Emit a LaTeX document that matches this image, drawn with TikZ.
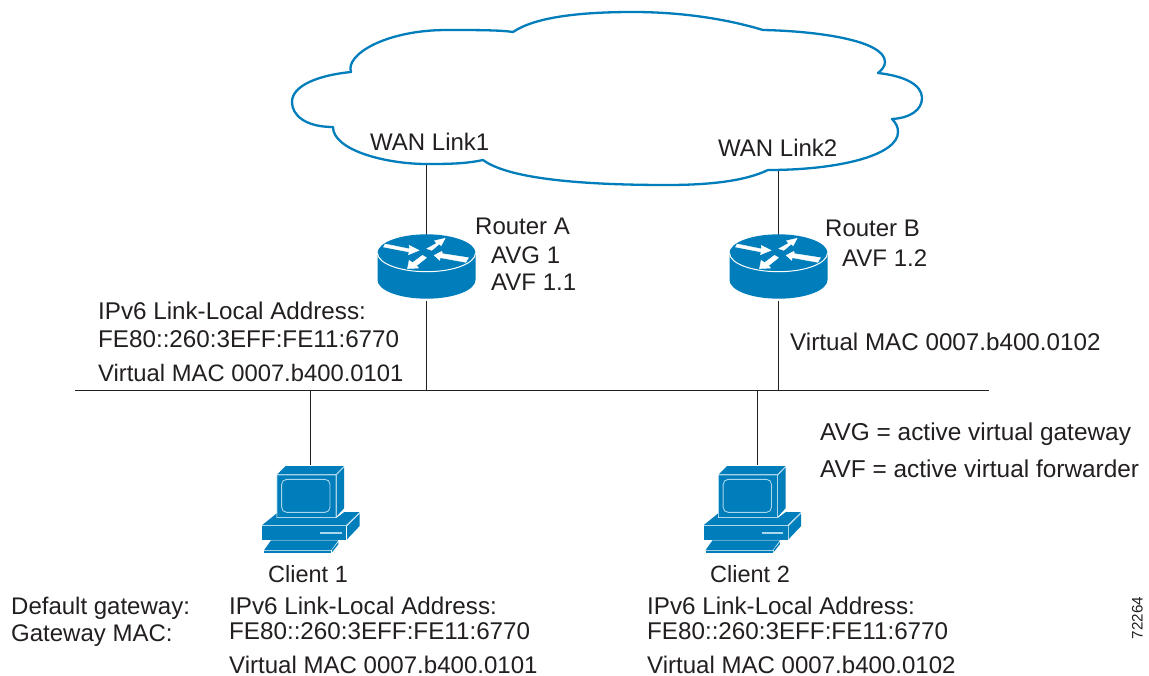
\documentclass[tikz,border=0pt]{standalone}
\usepackage{fontspec}
\setmainfont{Liberation Sans}
\definecolor{cblue}{RGB}{0,125,187}
\definecolor{cpale}{RGB}{170,215,235}
\definecolor{txt}{RGB}{35,31,32}
\tikzset{
  lbl/.style={anchor=base west,inner sep=0,text=txt,font=\fontsize{24.2}{28}\selectfont},
  lblb/.style={lbl,font=\fontsize{24}{28}\selectfont},
  lblc/.style={lbl,font=\fontsize{24.4}{28}\selectfont},
  lbld/.style={lbl,font=\fontsize{23.5}{28}\selectfont},
  lble/.style={lbl,font=\fontsize{23.8}{28}\selectfont},
  lblf/.style={lbl,font=\fontsize{24.05}{28}\selectfont},
  link/.style={draw=txt,line width=1.3pt},
  cloudline/.style={draw=cblue,line width=2.3pt,line join=round,fill=white},
  arrowfill/.style={fill=white,draw=white,line width=.4pt},
  router/.pic={
    \fill[cblue] (-49,0) -- (-49,27) arc[start angle=180,end angle=360,x radius=49pt,y radius=18.7pt] -- (49,0) arc[start angle=0,end angle=180,x radius=49pt,y radius=18.7pt] -- cycle;
    \draw[white,line width=1pt] (-49,0) arc[start angle=180,end angle=360,x radius=49pt,y radius=18.7pt];
    \begin{scope}[shift={(-202/3,-158/3)},scale=1/3]
      \path[arrowfill] (73,140) -- (78,131) -- (152,146) -- (150,135) -- (180,150) -- (148,163) -- (150,155) -- cycle;
      \path[arrowfill] (203,145) -- (232,129) -- (226,121) -- (258,114) -- (246,136) -- (240,131) -- (218,150) -- cycle;
      \path[arrowfill] (225,165) -- (248,153) -- (250,160) -- (328,172) -- (320,186) -- (243,172) -- (242,180) -- cycle;
      \path[arrowfill] (145,205) -- (150,180) -- (160,187) -- (190,165) -- (202,172) -- (172,196) -- (178,203) -- cycle;
    \end{scope}
  },
  pcicon/.pic={
    \begin{scope}[shift={(-353/3,-45/3)},scale=1/3]
      % monitor
      \fill[cblue] (237,73) -- (262,48) -- (437,48) -- (412,73) -- cycle;
      \fill[cblue] (415,75) -- (437,52) -- (437,175) -- (415,199) -- cycle;
      \fill[cblue] (237,76) -- (412,76) -- (412,200) -- (237,200) -- cycle;
      \draw[cpale,line width=.9pt] (236,200) -- (236,75) -- (413,75) -- (413,202) (413,75) -- (437,50);
      \draw[cpale,line width=.9pt,rounded corners=5pt] (250,88) rectangle (395,187);
      % base
      \fill[cblue] (192,225) -- (235,190) -- (235,204) -- (414,204) -- (438,186) -- (484,186) -- (444,225) -- cycle;
      \fill[cblue] (446,229) -- (484,191) -- (484,228) -- (446,268) -- cycle;
      \fill[cblue] (192,228) -- (443,228) -- (443,269) -- (192,269) -- cycle;
      \draw[cpale,line width=.9pt] (192,226.5) -- (444,226.5) -- (484,188);
      \draw[cpale,line width=.9pt] (236,203) -- (413,203);
      \draw[cpale,line width=1.5pt] (365,249) -- (430,249);
      % keyboard
      \fill[cblue] (218,271) -- (420,271) -- (398,301) -- (197,301) -- cycle;
      \fill[cblue] (401,300) -- (420,276) -- (420,283) -- (401,307) -- cycle;
      \fill[cblue] (197,304) -- (398,304) -- (398,308) -- (197,308) -- cycle;
    \end{scope}
  }
}
\begin{document}
\begin{tikzpicture}[x=1pt,y=-1pt]
\useasboundingbox (0,0) rectangle (1149,675);
\fill[white] (0,0) rectangle (1149,675);
% cloud
\path[cloudline] (513,32)
  .. controls (535,17) and (580,12) .. (633,12)
  .. controls (685,12) and (730,20) .. (763,30)
  .. controls (815,31) and (885,40) .. (885,62)
  .. controls (885,66) and (882,70) .. (878,73)
  .. controls (905,76) and (922,85) .. (922,98)
  .. controls (922,110) and (910,118) .. (892,119)
  .. controls (896,123) and (898,127) .. (898,132)
  .. controls (898,155) and (840,170) .. (768,170)
  .. controls (745,181) and (710,185) .. (667,185)
  .. controls (590,185) and (510,180) .. (483,160)
  .. controls (465,164) and (445,164) .. (427,164)
  .. controls (385,164) and (333,150) .. (333,127)
  .. controls (305,127) and (292,115) .. (292,102)
  .. controls (292,85) and (320,75) .. (351,72)
  .. controls (345,55) and (385,30) .. (447,30)
  .. controls (475,30) and (500,30) .. (513,32) -- cycle;
\node[lblb] (wan1) at (370,150) {WAN Link1};
\node[lblb] (wan2) at (718,156) {WAN Link2};
% nodes
\coordinate (cA) at (426.5,165);
\coordinate (cB) at (778.5,171);
\coordinate (ra) at (426.5,253);
\coordinate (rb) at (778.5,253);
\coordinate (raout) at (426.5,301);
\coordinate (rbout) at (778.5,301);
\coordinate (busl) at (75,390.5);
\coordinate (busr) at (989,390.5);
\coordinate (pa) at (426.5,390.5);
\coordinate (pb) at (778.5,390.5);
\coordinate (p1) at (310.5,390.5);
\coordinate (p2) at (757.5,390.5);
\coordinate (c1) at (310.5,465);
\coordinate (c2) at (757.5,465);
\coordinate (c1icon) at (316,465);
\draw[link] (cA) -- (ra);
\draw[link] (cB) -- (rb);
\draw[link] (raout) -- (pa);
\draw[link] (rbout) -- (pb);
\draw[link] (busl) -- (busr);
\draw[link] (p1) -- (c1);
\draw[link] (p2) -- (c2);
\pic at (ra) {router};
\pic at (rb) {router};
\pic at (c1icon) {pcicon};
\pic at (c2) {pcicon};
\node[lblb] (t1) at (475,234) {Router A};
\node[lblb] (t2) at (491,263.5) {AVG 1};
\node[lblb] (t3) at (491,290.5) {AVF 1.1};
\node[lblb] (t4) at (825,236.5) {Router B};
\node[lblb] (t5) at (842,266) {AVF 1.2};
\node[lbl] (t6) at (98,319.5) {IPv6 Link-Local Address:};
\node[lbl] (t7) at (98,347) {FE80::260:3EFF:FE11:6770};
\node[lble] (t8) at (98,381) {Virtual MAC 0007.b400.0101};
\node[lbl] (t9) at (790,350) {Virtual MAC 0007.b400.0102};
\node[lblc] (t10) at (820,440.5) {AVG = active virtual gateway};
\node[lblc] (t11) at (820,477.5) {AVF = active virtual forwarder};
\node[lbld] (t12) at (268,582.7) {Client 1};
\node[lbld] (t13) at (710,582.7) {Client 2};
\node[lblb] (t14) at (11,614) {Default gateway:};
\node[lblb] (t15) at (11,641.5) {Gateway MAC:};
\node[lbl] (t16) at (229,614) {IPv6 Link-Local Address:};
\node[lbl] (t17) at (229,639.5) {FE80::260:3EFF:FE11:6770};
\node[lblf] (t18) at (229,673) {Virtual MAC 0007.b400.0101};
\node[lbl] (t19) at (647,614) {IPv6 Link-Local Address:};
\node[lbl] (t20) at (647,639.5) {FE80::260:3EFF:FE11:6770};
\node[lblf] (t21) at (647,673) {Virtual MAC 0007.b400.0102};
\node[anchor=base west,inner sep=0,text=txt,font=\fontsize{15.2}{18}\selectfont,rotate=90] (t22) at (1142.5,639.5) {72264};
\end{tikzpicture}
\end{document}
